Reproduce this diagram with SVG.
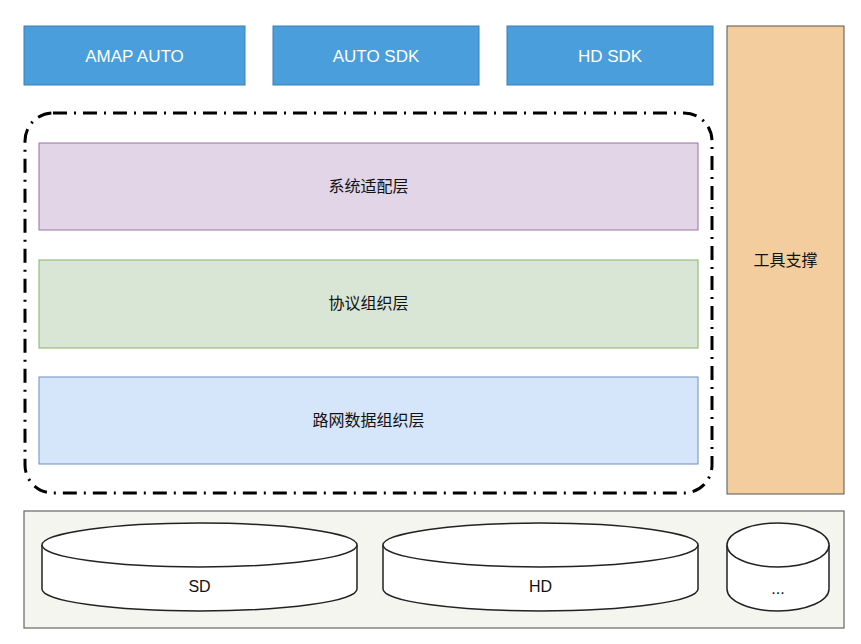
<svg xmlns="http://www.w3.org/2000/svg" width="861" height="644" viewBox="0 0 861 644">
<style>
.top rect{fill:#4a9edc;stroke:#3b7fb5;stroke-width:1}
.top text{fill:#fff;font-family:"Liberation Sans",Arial,sans-serif;font-size:17px;text-anchor:middle}
.lbl{fill:#111;font-family:"Liberation Sans","Noto Sans CJK SC",sans-serif;font-size:16px;text-anchor:middle}
.cyl{fill:#fff;stroke:#222;stroke-width:1.5}
</style>
<rect width="861" height="644" fill="#fff"/>
<g id="amap" class="top"><rect x="24" y="26" width="221" height="59"/><text x="134.5" y="61.5">AMAP AUTO</text></g>
<g id="autosdk" class="top"><rect x="273" y="26" width="206" height="59"/><text x="376" y="61.5">AUTO SDK</text></g>
<g id="hdsdk" class="top"><rect x="507" y="26" width="206" height="59"/><text x="610" y="61.5">HD SDK</text></g>
<g id="tools"><rect x="727" y="26" width="117" height="468" fill="#f4cd9f" stroke="#555" stroke-width="1"/><text class="lbl" x="785.5" y="266">工具支撑</text></g>
<g id="frame"><rect x="25" y="113" width="687" height="380" rx="28" ry="28" fill="none" stroke="#000" stroke-width="3" stroke-dasharray="14 7 2 7"/></g>
<g id="sys"><rect x="39" y="143" width="659" height="87" fill="#e1d5e7" stroke="#9673a6"/><text class="lbl" x="368.5" y="192">系统适配层</text></g>
<g id="proto"><rect x="39" y="260" width="659" height="88" fill="#d9e6d6" stroke="#82b366"/><text class="lbl" x="368.5" y="309">协议组织层</text></g>
<g id="road"><rect x="39" y="377" width="659" height="87" fill="#d5e5fa" stroke="#6c8ebf"/><text class="lbl" x="368.5" y="426">路网数据组织层</text></g>
<g id="store"><rect x="24" y="511" width="820" height="117" fill="#f5f5ef" stroke="#666" stroke-width="1.2"/></g>
<g id="sd"><path class="cyl" d="M42 545 L42 589 A157.5 22 0 0 0 357 589 L357 545 A157.5 22 0 0 0 42 545 Z"/><path class="cyl" d="M42 545 A157.5 22 0 0 0 357 545" fill="none"/><text class="lbl" x="199.5" y="592">SD</text></g>
<g id="hd"><path class="cyl" d="M383 545 L383 589 A157.5 22 0 0 0 698 589 L698 545 A157.5 22 0 0 0 383 545 Z"/><path class="cyl" d="M383 545 A157.5 22 0 0 0 698 545" fill="none"/><text class="lbl" x="540.5" y="592">HD</text></g>
<g id="more"><path class="cyl" d="M727 545 L727 589 A51 22 0 0 0 829 589 L829 545 A51 22 0 0 0 727 545 Z"/><path class="cyl" d="M727 545 A51 22 0 0 0 829 545" fill="none"/><text class="lbl" x="778" y="594">...</text></g>
<g id="connectors"/>
</svg>
